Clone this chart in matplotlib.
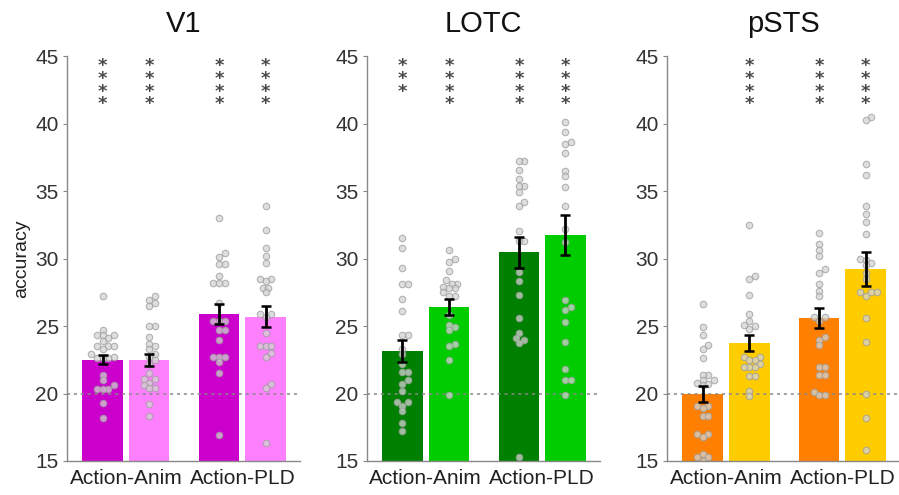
import matplotlib
matplotlib.use("Agg")
import matplotlib.pyplot as plt
import numpy as np

plt.rcParams['font.family'] = ['Liberation Sans', 'DejaVu Sans']

regions = ["V1", "LOTC", "pSTS"]
groups = ["Action-Anim", "Action-PLD"]

# bar order per panel: Anim-dark, Anim-light, PLD-dark, PLD-light
colors = {
    "V1":   ["#CC00CC", "#FF80FF", "#CC00CC", "#FF80FF"],
    "LOTC": ["#008000", "#00CC00", "#008000", "#00CC00"],
    "pSTS": ["#FF8000", "#FFCC00", "#FF8000", "#FFCC00"],
}

means = {
    "V1":   [22.5, 22.5, 25.9, 25.7],
    "LOTC": [23.15, 26.4, 30.45, 31.75],
    "pSTS": [19.95, 23.75, 25.6, 29.2],
}
sems = {
    "V1":   [0.35, 0.45, 0.75, 0.8],
    "LOTC": [0.85, 0.6, 1.15, 1.5],
    "pSTS": [0.6, 0.6, 0.73, 1.25],
}
n_stars = {
    "V1":   [4, 4, 4, 4],
    "LOTC": [3, 4, 4, 4],
    "pSTS": [0, 4, 4, 4],
}

v1_anim_a = [27.2, 24.7, 24.3, 24.3, 24.3, 24.1, 23.9, 23.5, 23.5, 23.5, 23.3, 22.9,
             22.7, 22.6, 22.6, 22.6, 21.4, 21.0, 20.6, 20.3, 20.3, 20.3, 19.3, 18.2]
v1_anim_b = [27.2, 26.9, 26.7, 26.5, 25.0, 25.0, 24.15, 23.7, 23.5, 23.3, 22.9, 22.7,
             22.5, 22.2, 21.5, 21.1, 21.1, 20.8, 20.6, 20.4, 20.4, 19.2, 18.3]
v1_pld_a = [33.0, 30.4, 30.1, 29.6, 29.6, 28.7, 28.2, 28.2, 28.2, 26.7, 25.4, 25.4,
            25.4, 24.7, 24.7, 24.0, 22.7, 22.7, 22.7, 22.3, 21.5, 16.9]
v1_pld_b = [33.9, 32.15, 30.8, 30.2, 29.7, 28.5, 28.5, 28.3, 27.85, 27.85, 27.5, 25.9,
            25.9, 25.7, 24.5, 23.5, 23.5, 23.5, 23.0, 22.7, 20.7, 20.4, 16.3]

lotc_anim_a = [31.5, 30.8, 29.3, 28.15, 28.15, 27.0, 26.1, 24.3, 24.3, 23.3, 22.9, 22.2,
               21.6, 21.6, 21.0, 20.7, 20.2, 19.4, 19.4, 19.1, 18.7, 17.8, 17.2]
lotc_anim_b = [30.6, 30.0, 29.75, 29.1, 28.4, 28.15, 28.15, 27.9, 27.8, 27.8, 27.5, 27.2,
               27.2, 25.8, 25.1, 24.7, 24.9, 23.7, 23.5, 22.5, 19.9]
lotc_pld_a = [37.2, 37.2, 36.55, 35.9, 35.4, 35.4, 34.9, 34.2, 33.9, 32.05, 31.3, 31.3,
              29.0, 28.3, 27.3, 25.6, 24.5, 24.1, 23.95, 23.75, 15.3]
lotc_pld_b = [40.1, 39.4, 38.5, 38.6, 37.8, 36.5, 36.1, 35.3, 33.9, 32.2, 31.2, 26.96,
              26.4, 26.2, 25.3, 23.85, 21.85, 21.0, 21.0, 19.9]

psts_anim_a = [26.6, 24.9, 24.3, 23.6, 23.3, 22.6, 21.4, 21.4, 21.0, 21.0, 20.8, 20.6,
               20.7, 19.1, 19.1, 18.9, 18.3, 18.3, 17.0, 17.0, 16.8, 15.55, 15.3, 15.3, 15.0]
psts_anim_b = [32.5, 28.7, 28.5, 27.3, 25.9, 25.4, 25.1, 25.0, 24.8, 22.7, 22.7, 22.5,
               22.5, 22.2, 22.0, 22.0, 22.0, 21.3, 21.3, 20.2, 19.8]
psts_pld_a = [31.9, 31.1, 30.6, 30.2, 29.2, 28.9, 28.15, 27.6, 27.2, 25.7, 25.7, 25.4,
              24.2, 24.0, 23.6, 22.0, 22.0, 21.4, 21.4, 20.1, 19.9, 19.9]
psts_pld_b = [40.45, 40.26, 37.0, 36.2, 33.9, 33.3, 32.7, 31.8, 30.0, 29.9, 29.7, 29.5,
              28.9, 28.5, 27.5, 27.5, 27.5, 27.2, 25.6, 23.8, 20.0, 18.2, 15.85]

points = {
    "V1":   [v1_anim_a, v1_anim_b, v1_pld_a, v1_pld_b],
    "LOTC": [lotc_anim_a, lotc_anim_b, lotc_pld_a, lotc_pld_b],
    "pSTS": [psts_anim_a, psts_anim_b, psts_pld_a, psts_pld_b],
}

chance = 20
ylim = (15, 45)


def swarm_offsets(vals, dx, dy):
    """simple beeswarm: place points in order, nudging sideways on overlap"""
    vals = np.asarray(vals, float)
    order = np.argsort(vals)
    placed = []
    offs = np.zeros(len(vals))
    cands = [0.0]
    for m in range(1, 10):
        cands += [m * dx * 0.5, -m * dx * 0.5]
    for i in order:
        y = vals[i]
        for c in cands:
            ok = True
            for (px, py) in placed:
                if ((px - c) / dx) ** 2 + ((py - y) / dy) ** 2 < 1.0:
                    ok = False
                    break
            if ok:
                offs[i] = c
                placed.append((c, y))
                break
    return offs


fig = plt.figure(figsize=(8.99, 4.95), dpi=100)
lefts = [0.0745, 0.408, 0.742]
width = 0.259
bottom = 0.0687
height = 0.818

xpos = np.array([1.0, 2.0, 3.5, 4.5])
bar_w = 0.87

for pi, reg in enumerate(regions):
    ax = fig.add_axes([lefts[pi], bottom, width, height])
    ax.bar(xpos, means[reg], width=bar_w, color=colors[reg], zorder=1)
    ax.axhline(chance, color="#888888", linestyle=(0, (2, 2.5)), linewidth=1.1, zorder=1.5)
    for j in range(4):
        vals = points[reg][j]
        offs = swarm_offsets(vals, 0.12, 0.38)
        ax.scatter(xpos[j] + offs, vals, s=22, facecolor="#D3D3D3", edgecolor="#9E9E9E",
                   linewidth=0.8, alpha=0.75, zorder=2)
        for k in range(n_stars[reg][j]):
            ax.text(xpos[j], 44.25 - 0.94 * k, "*", ha="center", va="center",
                    fontsize=13, fontweight="bold", color="#4A4A4A",
                    family="DejaVu Sans", zorder=4)
    ax.errorbar(xpos, means[reg], yerr=sems[reg], fmt="none", ecolor="black",
                elinewidth=2.0, capsize=3.5, capthick=1.8, zorder=3)
    ax.set_xlim(0.234, 5.234)
    ax.set_ylim(*ylim)
    ax.set_yticks(np.arange(15, 46, 5))
    ax.set_xticks([1.5, 4.0])
    ax.set_xticklabels(groups)
    ax.tick_params(axis="x", length=0, labelsize=15, colors="#222222", pad=6)
    ax.tick_params(axis="y", length=3, labelsize=15, colors="#333333", pad=3)
    ax.tick_params(axis="y", color="#888888")
    for s in ["top", "right"]:
        ax.spines[s].set_visible(False)
    for s in ["left", "bottom"]:
        ax.spines[s].set_color("#888888")
        ax.spines[s].set_linewidth(1.0)
    ax.set_title(reg, fontsize=21, color="#111111", pad=17)
    if pi == 0:
        ax.set_ylabel("accuracy", fontsize=14, color="#222222", labelpad=4)

fig.savefig("out.png", dpi=100)
